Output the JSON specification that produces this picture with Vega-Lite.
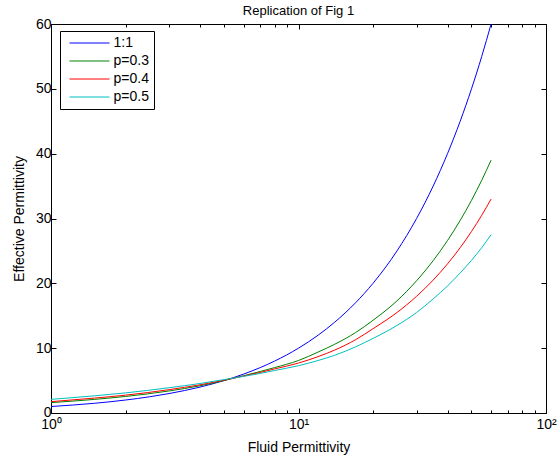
{
  "$schema": "https://vega.github.io/schema/vega-lite/v6.json",
  "width": 495,
  "height": 389,
  "autosize": {"type": "none"},
  "padding": {"left": 51, "top": 24, "right": 13, "bottom": 49},
  "background": "white",
  "title": {"text": "Replication of Fig 1", "fontSize": 13, "fontWeight": "normal", "font": "Liberation Sans", "offset": -1, "color": "black"},
  "config": {
    "view": {"stroke": "black", "strokeWidth": 1},
    "axis": {"domain": false, "grid": false, "tickColor": "black", "labelColor": "black", "titleColor": "black", "labelFont": "Liberation Sans", "titleFont": "Liberation Sans", "labelFontSize": 14, "titleFontSize": 14, "titleFontWeight": "normal", "labelFlush": false, "labelOverlap": false}
  },
  "data": {"values": [
    {"fluid": 1, "eff": 1, "series": "1:1"},
    {"fluid": 1.5, "eff": 1.5, "series": "1:1"},
    {"fluid": 2, "eff": 2, "series": "1:1"},
    {"fluid": 2.5, "eff": 2.5, "series": "1:1"},
    {"fluid": 3, "eff": 3, "series": "1:1"},
    {"fluid": 4, "eff": 4, "series": "1:1"},
    {"fluid": 5, "eff": 5, "series": "1:1"},
    {"fluid": 6, "eff": 6, "series": "1:1"},
    {"fluid": 7, "eff": 7, "series": "1:1"},
    {"fluid": 8, "eff": 8, "series": "1:1"},
    {"fluid": 10, "eff": 10, "series": "1:1"},
    {"fluid": 12, "eff": 12, "series": "1:1"},
    {"fluid": 14, "eff": 14, "series": "1:1"},
    {"fluid": 17, "eff": 17, "series": "1:1"},
    {"fluid": 20, "eff": 20, "series": "1:1"},
    {"fluid": 25, "eff": 25, "series": "1:1"},
    {"fluid": 30, "eff": 30, "series": "1:1"},
    {"fluid": 35, "eff": 35, "series": "1:1"},
    {"fluid": 40, "eff": 40, "series": "1:1"},
    {"fluid": 45, "eff": 45, "series": "1:1"},
    {"fluid": 50, "eff": 50, "series": "1:1"},
    {"fluid": 55, "eff": 55, "series": "1:1"},
    {"fluid": 60, "eff": 60, "series": "1:1"},
    {"fluid": 1, "eff": 1.6, "series": "p=0.3"},
    {"fluid": 1.5, "eff": 2.1, "series": "p=0.3"},
    {"fluid": 2, "eff": 2.55, "series": "p=0.3"},
    {"fluid": 3, "eff": 3.4, "series": "p=0.3"},
    {"fluid": 4, "eff": 4.2, "series": "p=0.3"},
    {"fluid": 5, "eff": 5.0, "series": "p=0.3"},
    {"fluid": 6, "eff": 5.75, "series": "p=0.3"},
    {"fluid": 7, "eff": 6.4, "series": "p=0.3"},
    {"fluid": 8, "eff": 7.0, "series": "p=0.3"},
    {"fluid": 10, "eff": 8.1, "series": "p=0.3"},
    {"fluid": 12, "eff": 9.4, "series": "p=0.3"},
    {"fluid": 14, "eff": 10.6, "series": "p=0.3"},
    {"fluid": 17, "eff": 12.4, "series": "p=0.3"},
    {"fluid": 20, "eff": 14.3, "series": "p=0.3"},
    {"fluid": 25, "eff": 17.3, "series": "p=0.3"},
    {"fluid": 30, "eff": 20.4, "series": "p=0.3"},
    {"fluid": 35, "eff": 23.5, "series": "p=0.3"},
    {"fluid": 40, "eff": 26.6, "series": "p=0.3"},
    {"fluid": 45, "eff": 29.7, "series": "p=0.3"},
    {"fluid": 50, "eff": 32.8, "series": "p=0.3"},
    {"fluid": 55, "eff": 35.9, "series": "p=0.3"},
    {"fluid": 60, "eff": 39.0, "series": "p=0.3"},
    {"fluid": 1, "eff": 1.75, "series": "p=0.4"},
    {"fluid": 1.5, "eff": 2.3, "series": "p=0.4"},
    {"fluid": 2, "eff": 2.75, "series": "p=0.4"},
    {"fluid": 3, "eff": 3.6, "series": "p=0.4"},
    {"fluid": 4, "eff": 4.35, "series": "p=0.4"},
    {"fluid": 5, "eff": 5.05, "series": "p=0.4"},
    {"fluid": 6, "eff": 5.7, "series": "p=0.4"},
    {"fluid": 7, "eff": 6.25, "series": "p=0.4"},
    {"fluid": 8, "eff": 6.8, "series": "p=0.4"},
    {"fluid": 10, "eff": 7.7, "series": "p=0.4"},
    {"fluid": 12, "eff": 8.7, "series": "p=0.4"},
    {"fluid": 14, "eff": 9.7, "series": "p=0.4"},
    {"fluid": 17, "eff": 11.3, "series": "p=0.4"},
    {"fluid": 20, "eff": 13.0, "series": "p=0.4"},
    {"fluid": 25, "eff": 15.5, "series": "p=0.4"},
    {"fluid": 30, "eff": 18.0, "series": "p=0.4"},
    {"fluid": 35, "eff": 20.5, "series": "p=0.4"},
    {"fluid": 40, "eff": 23.0, "series": "p=0.4"},
    {"fluid": 45, "eff": 25.5, "series": "p=0.4"},
    {"fluid": 50, "eff": 28.0, "series": "p=0.4"},
    {"fluid": 55, "eff": 30.5, "series": "p=0.4"},
    {"fluid": 60, "eff": 33.0, "series": "p=0.4"},
    {"fluid": 1, "eff": 2.1, "series": "p=0.5"},
    {"fluid": 1.5, "eff": 2.65, "series": "p=0.5"},
    {"fluid": 2, "eff": 3.1, "series": "p=0.5"},
    {"fluid": 3, "eff": 3.9, "series": "p=0.5"},
    {"fluid": 4, "eff": 4.55, "series": "p=0.5"},
    {"fluid": 5, "eff": 5.15, "series": "p=0.5"},
    {"fluid": 6, "eff": 5.65, "series": "p=0.5"},
    {"fluid": 7, "eff": 6.1, "series": "p=0.5"},
    {"fluid": 8, "eff": 6.55, "series": "p=0.5"},
    {"fluid": 10, "eff": 7.3, "series": "p=0.5"},
    {"fluid": 12, "eff": 8.1, "series": "p=0.5"},
    {"fluid": 14, "eff": 8.9, "series": "p=0.5"},
    {"fluid": 17, "eff": 10.2, "series": "p=0.5"},
    {"fluid": 20, "eff": 11.5, "series": "p=0.5"},
    {"fluid": 25, "eff": 13.5, "series": "p=0.5"},
    {"fluid": 30, "eff": 15.5, "series": "p=0.5"},
    {"fluid": 35, "eff": 17.6, "series": "p=0.5"},
    {"fluid": 40, "eff": 19.6, "series": "p=0.5"},
    {"fluid": 45, "eff": 21.6, "series": "p=0.5"},
    {"fluid": 50, "eff": 23.55, "series": "p=0.5"},
    {"fluid": 55, "eff": 25.5, "series": "p=0.5"},
    {"fluid": 60, "eff": 27.5, "series": "p=0.5"}
  ]},
  "layer": [
    {
      "mark": {"type": "line", "strokeWidth": 1, "clip": true, "interpolate": "monotone"},
      "encoding": {
        "x": {"field": "fluid", "type": "quantitative", "scale": {"type": "log", "domain": [1, 100], "nice": false},
          "axis": {"orient": "bottom", "title": "Fluid Permittivity", "titlePadding": 7,
            "values": [1,2,3,4,5,6,7,8,9,10,20,30,40,50,60,70,80,90,100],
            "labelExpr": "datum.value == 1 ? '10⁰' : datum.value == 10 ? '10¹' : datum.value == 100 ? '10²' : ''",
            "tickSize": {"condition": {"test": "datum.value == 1 || datum.value == 10 || datum.value == 100", "value": -5}, "value": -3},
            "labelPadding": 9}},
        "y": {"field": "eff", "type": "quantitative", "scale": {"domain": [0, 60], "nice": false},
          "axis": {"orient": "left", "title": "Effective Permittivity", "values": [0,10,20,30,40,50,60], "tickSize": -5, "labelPadding": 5, "titlePadding": 9,
            "labelOffset": {"condition": {"test": "datum.value == 0", "value": -1}, "value": 0}}},
        "color": {"field": "series", "type": "nominal",
          "scale": {"domain": ["1:1", "p=0.3", "p=0.4", "p=0.5"], "range": ["#0000ff", "#008000", "#ff0000", "#00bfbf"]},
          "legend": {"title": null, "orient": "none", "legendX": 9, "legendY": 7, "strokeColor": "black", "fillColor": "white", "padding": 5,
            "symbolType": "M-4,0H4", "symbolSize": 100, "symbolOffset": 17.5, "labelOffset": 17, "rowPadding": 4, "symbolStrokeWidth": 1, "symbolFillColor": "transparent", "labelFontSize": 14, "labelFont": "Liberation Sans", "labelColor": "black"}}
      }
    },
    {
      "mark": {"type": "line", "opacity": 0},
      "encoding": {
        "x": {"field": "fluid", "type": "quantitative", "scale": {"type": "log", "domain": [1, 100], "nice": false},
          "axis": {"orient": "top", "title": null, "labels": false,
            "values": [1,2,3,4,5,6,7,8,9,10,20,30,40,50,60,70,80,90,100],
            "tickSize": {"condition": {"test": "datum.value == 1 || datum.value == 10 || datum.value == 100", "value": -5}, "value": -3}}},
        "y": {"field": "eff", "type": "quantitative", "scale": {"domain": [0, 60], "nice": false},
          "axis": {"orient": "right", "title": null, "labels": false, "values": [0,10,20,30,40,50,60], "tickSize": -5}},
        "detail": {"field": "series", "type": "nominal"}
      }
    }
  ],
  "resolve": {"axis": {"x": "independent", "y": "independent"}}
}
